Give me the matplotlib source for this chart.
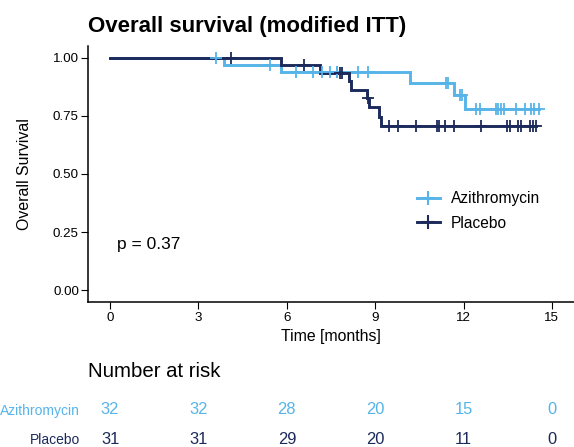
import numpy as np
import matplotlib
matplotlib.use("Agg")
import matplotlib.pyplot as plt
from matplotlib.lines import Line2D

plt.rcParams['font.family'] = ['Liberation Sans', 'DejaVu Sans']

# Kaplan-Meier data (months / survival)
groups = ['Azithromycin', 'Placebo']
colors = ['#56B4E9', '#1C2A5B']

azi_event_times = [3.86, 5.79, 10.19, 11.68, 12.06]
azi_surv = [0.969, 0.937, 0.890, 0.838, 0.778]
azi_censor = [3.59, 5.42, 6.30, 6.90, 7.18, 7.48, 7.69, 7.72, 8.40, 8.77,
              11.40, 11.46, 11.89, 11.96, 12.42, 12.56, 13.10, 13.18, 13.27,
              13.37, 13.77, 14.08, 14.29, 14.38, 14.56]

pla_event_times = [5.80, 7.14, 8.10, 8.18, 8.72, 8.80, 9.12, 9.20]
pla_surv = [0.968, 0.935, 0.899, 0.862, 0.825, 0.786, 0.747, 0.706]
pla_censor = [4.10, 6.60, 7.82, 7.89, 8.75, 9.48, 9.79, 10.39, 11.10, 11.18,
              11.38, 11.68, 12.60, 13.49, 13.57, 13.86, 13.95, 14.27, 14.36, 14.47]

risk_times = [0, 3, 6, 9, 12, 15]
azi_risk = [32, 32, 28, 20, 15, 0]
pla_risk = [31, 31, 29, 20, 11, 0]

p_text = 'p = 0.37'

W, H = 574, 447
fig = plt.figure(figsize=(W / 100, H / 100), dpi=100)

# main plot axes
left, right, top, bottom = 88, 574, 46, 302
ax = fig.add_axes([left / W, 1 - bottom / H, (right - left) / W, (bottom - top) / H])


def km_step(ev_t, ev_s, censor):
    t = np.array([0.0] + list(ev_t))
    s = np.array([1.0] + list(ev_s))
    end = max(max(censor), max(ev_t))
    t_all = np.append(t, end)
    s_all = np.append(s, s[-1])
    idx = np.searchsorted(t, np.array(censor), side='right') - 1
    return t_all, s_all, s[idx]


curves = [
    km_step(azi_event_times, azi_surv, azi_censor),
    km_step(pla_event_times, pla_surv, pla_censor),
]
censors = [azi_censor, pla_censor]

for (t, s, cs), c in zip(curves, colors):
    ax.step(t, s, where='post', color=c, lw=2.1, solid_joinstyle='miter')
for (t, s, cs), cens, c in zip(curves, censors, colors):
    ax.plot(cens, cs, ls='none', marker='+', ms=8, mew=1.3, color=c)

ax.set_xlim(-0.75, 15.75)
ax.set_ylim(-0.05, 1.05)
ax.set_xticks(risk_times)
ax.set_yticks([0, 0.25, 0.5, 0.75, 1.0])
ax.set_yticklabels(['%.2f' % v for v in [0, 0.25, 0.5, 0.75, 1.0]])
for sp in ['top', 'right']:
    ax.spines[sp].set_visible(False)
for sp in ['left', 'bottom']:
    ax.spines[sp].set_linewidth(1.1)
ax.tick_params(axis='both', length=5, width=0.8, labelsize=9.6, colors='black')
ax.tick_params(axis='x', pad=2.5)
ax.tick_params(axis='y', pad=1.5)

ax.set_xlabel('Time [months]', fontsize=11.4, va='center')
ax.xaxis.set_label_coords(0.5, (bottom - 336.7) / (bottom - top))
ax.set_ylabel('Overall Survival', fontsize=11.4, va='center')
ax.yaxis.set_label_coords((25 - left) / (right - left), 0.5)

ax.text(0.24, 0.195, p_text, fontsize=12.5, ha='left', va='center')

handles = [Line2D([], [], color=c, lw=2.1, marker='+', ms=10, mew=1.5) for c in colors]
ax.legend(handles, groups, loc='center left', frameon=False, fontsize=11.2,
          bbox_to_anchor=((417 - left) / (right - left), (bottom - 211) / (bottom - top)),
          borderaxespad=0, borderpad=0, handlelength=1.45, handletextpad=0.75,
          labelspacing=0.6)

fig.text(left / W, 1 - 31.7 / H, 'Overall survival (modified ITT)', fontsize=16,
         fontweight='bold', ha='left', va='baseline')

# number at risk table
fig.text(left / W, 1 - 371.7 / H, 'Number at risk', fontsize=14.7, ha='left', va='center')

tb_top = 395
ax2 = fig.add_axes([left / W, 0, (right - left) / W, (H - tb_top) / H])
ax2.set_xlim(-0.75, 15.75)
ax2.set_ylim(1 + (H - 439) / 29, -(410 - tb_top) / 29)
for sp in ax2.spines.values():
    sp.set_visible(False)
ax2.set_xticks([])
ax2.set_yticks([0, 1])
ax2.set_yticklabels(groups, fontsize=10)
ax2.tick_params(axis='y', length=0, pad=5.8)
for lab, c in zip(ax2.get_yticklabels(), colors):
    lab.set_color(c)
ax2.patch.set_alpha(0)

for row, (vals, c) in enumerate(zip([azi_risk, pla_risk], colors)):
    for tx, n in zip(risk_times, vals):
        ax2.text(tx, row, str(n), color=c, fontsize=11.9, ha='center', va='center')

fig.savefig('out.png', dpi=100)
